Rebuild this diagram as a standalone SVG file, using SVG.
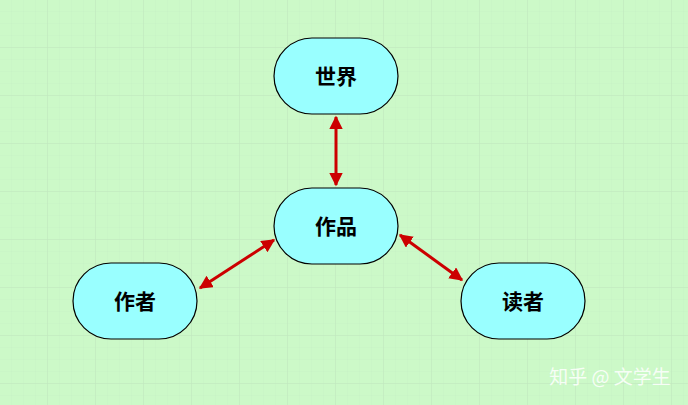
<svg xmlns="http://www.w3.org/2000/svg" width="688" height="405" viewBox="0 0 688 405">
<style>
.n{fill:#99ffff;stroke:#000;stroke-width:1.2}
.t{font-family:"Liberation Sans","Noto Sans CJK SC",sans-serif;font-size:21px;font-weight:bold;text-anchor:middle;fill:#000}
.c{stroke:#cc0000;stroke-width:3;fill:none;marker-start:url(#a);marker-end:url(#a)}
</style>
<defs>
<pattern id="g" width="12" height="12" patternUnits="userSpaceOnUse"><path d="M12 0V12H0" fill="none" stroke="#c4ecc2" stroke-width="0.5"/></pattern>
<pattern id="G" width="48" height="48" patternUnits="userSpaceOnUse"><rect width="48" height="48" fill="url(#g)"/><path d="M48 0V48H0" fill="none" stroke="#bde2bb" stroke-width="0.7"/></pattern>
<marker id="a" viewBox="0 0 10 10" refX="9" refY="5" markerWidth="4.5" markerHeight="4.5" orient="auto-start-reverse" markerUnits="strokeWidth"><path d="M0 0L10 5L0 10z" fill="#cc0000"/></marker>
</defs>
<rect width="688" height="405" fill="#ccf9c8"/>
<rect width="688" height="405" fill="url(#G)"/>
<g id="connectors">
<line class="c" x1="336" y1="117" x2="336" y2="185"/>
<line class="c" x1="200" y1="288" x2="274" y2="240"/>
<line class="c" x1="400" y1="235" x2="462" y2="280"/>
</g>
<g id="world"><rect class="n" x="274" y="38" width="124" height="76" rx="38"/><text class="t" x="336" y="84">世界</text></g>
<g id="work"><rect class="n" x="274" y="188" width="124" height="76" rx="38"/><text class="t" x="336" y="234">作品</text></g>
<g id="author"><rect class="n" x="73" y="263" width="124" height="76" rx="38"/><text class="t" x="135" y="309">作者</text></g>
<g id="reader"><rect class="n" x="461" y="263" width="124" height="76" rx="38"/><text class="t" x="523" y="309">读者</text></g>
<text x="610" y="384" font-family="Noto Sans CJK SC,sans-serif" font-size="19" fill="#ffffff" fill-opacity="0.85" text-anchor="middle">知乎 @ 文学生</text>
</svg>
